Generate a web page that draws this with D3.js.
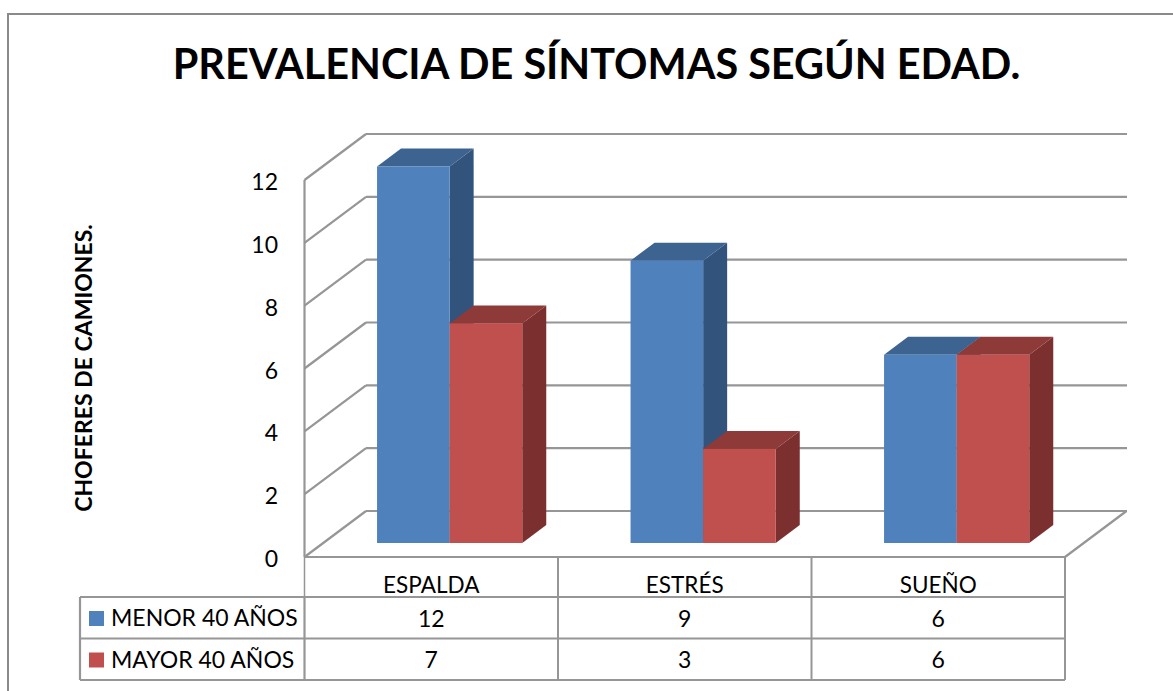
<!DOCTYPE html>
<html><head><meta charset="utf-8">
<script src="https://cdn.jsdelivr.net/npm/d3@7/dist/d3.min.js"></script>
<style>html,body{margin:0;padding:0;background:#fff}svg{display:block}text{font-family:Lato,"Open Sans",sans-serif}</style>
</head><body><svg id="c" width="1173" height="691"></svg>
<script>
const categories = ["ESPALDA","ESTRÉS","SUEÑO"];
const seriesNames = ["MENOR 40 AÑOS","MAYOR 40 AÑOS"];
const menor = [12,9,6];
const mayor = [7,3,6];
const yTicks = [0,2,4,6,8,10,12];
const titleText = "PREVALENCIA DE SÍNTOMAS SEGÚN EDAD.";
const yTitle = "CHOFERES DE CAMIONES.";

const svg = d3.select("#c");
const grid = "#969696";
const front = {l:304.5, r:1065, b:557};
const dx = 61.5, dy = -46;
const y = d3.scaleLinear().domain([0,12]).range([557,180]);
const barY = d3.scaleLinear().domain([0,12]).range([543,166.5]);
const x0 = d3.scaleBand().domain(categories).range([front.l,front.r]);
const colors = [{f:"#4f81bd",t:"#3d6390",s:"#32547c"},{f:"#c0504d",t:"#8e3a38",s:"#7b2f2e"}];
const series = [menor,mayor];

svg.append("rect").attr("x",8).attr("y",14).attr("width",1400).attr("height",900)
  .attr("fill","#fff").attr("stroke","#8a8a8a").attr("stroke-width",2);

svg.append("text").attr("x",596.5).attr("y",79).attr("text-anchor","middle")
  .attr("font-size",41.4).attr("font-weight",700).attr("fill","#000").text(titleText);

// walls
const line = (x1,y1,x2,y2,w=2.2,c=grid)=>svg.append("line").attr("x1",x1).attr("y1",y1).attr("x2",x2).attr("y2",y2).attr("stroke",c).attr("stroke-width",w);
yTicks.forEach(t=>{
  const yy=y(t);
  line(front.l,yy,front.l+dx,yy+dy);
  line(front.l+dx,yy+dy,1127,yy+dy);
});
line(front.l,y(0),front.l,y(12));
line(front.r,y(0),front.r+dx,y(0)+dy);
line(front.l,y(0),front.r,y(0));

// y labels
svg.append("g").selectAll("text").data(yTicks).join("text")
  .attr("x",278).attr("y",d=>y(d)+10).attr("text-anchor","end")
  .attr("font-size",23).attr("fill","#000").text(d=>d);
svg.append("text").attr("transform","translate(92,368) rotate(-90)").attr("text-anchor","middle")
  .attr("font-size",23).attr("font-weight",700).attr("fill","#000").text(yTitle);

// bars
const bw = 72.6, bdx = 24, bdy = -18, floorShift = 18.4;
const pad = (x0.bandwidth()-2*bw)/2 + floorShift;
categories.forEach((c,i)=>{
  series.forEach((s,j)=>{
    const v=s[i], xl=x0(c)+pad+j*bw, xr=xl+bw, yt=barY(v), yb=barY(0);
    const col=colors[j];
    svg.append("path").attr("fill",col.s).attr("d",`M${xr},${yt}L${xr+bdx},${yt+bdy}L${xr+bdx},${yb+bdy}L${xr},${yb}Z`);
    svg.append("path").attr("fill",col.t).attr("d",`M${xl},${yt}L${xl+bdx},${yt+bdy}L${xr+bdx},${yt+bdy}L${xr},${yt}Z`);
    svg.append("rect").attr("x",xl).attr("y",yt).attr("width",bw).attr("height",yb-yt).attr("fill",col.f);
  });
});

// data table
const rows=[597,638.5,680], tl=80;
rows.forEach(r=>line(tl,r,front.r,r));
[tl,front.l].forEach(xx=>line(xx,597,xx,680));
line(front.l,557,front.l,597,1.5);
categories.forEach(c=>{
  const xr=x0(c)+x0.bandwidth();
  line(xr,557,xr,680,2);
});
svg.append("g").selectAll("text").data(categories).join("text")
  .attr("x",d=>x0(d)+x0.bandwidth()/2).attr("y",593).attr("text-anchor","middle")
  .attr("font-size",22.5).attr("fill","#000").text(d=>d);
series.forEach((s,j)=>{
  const top=rows[j];
  svg.append("rect").attr("x",89).attr("y",top+14).attr("width",15).attr("height",15).attr("fill",colors[j].f);
  svg.append("text").attr("x",111).attr("y",top+29).attr("font-size",23).attr("fill","#000").text(seriesNames[j]);
  svg.append("g").selectAll("text").data(categories).join("text")
    .attr("x",d=>x0(d)+x0.bandwidth()/2).attr("y",top+29.5).attr("text-anchor","middle")
    .attr("font-size",23).attr("fill","#000").text((d,i)=>s[i]);
});
</script></body></html>
